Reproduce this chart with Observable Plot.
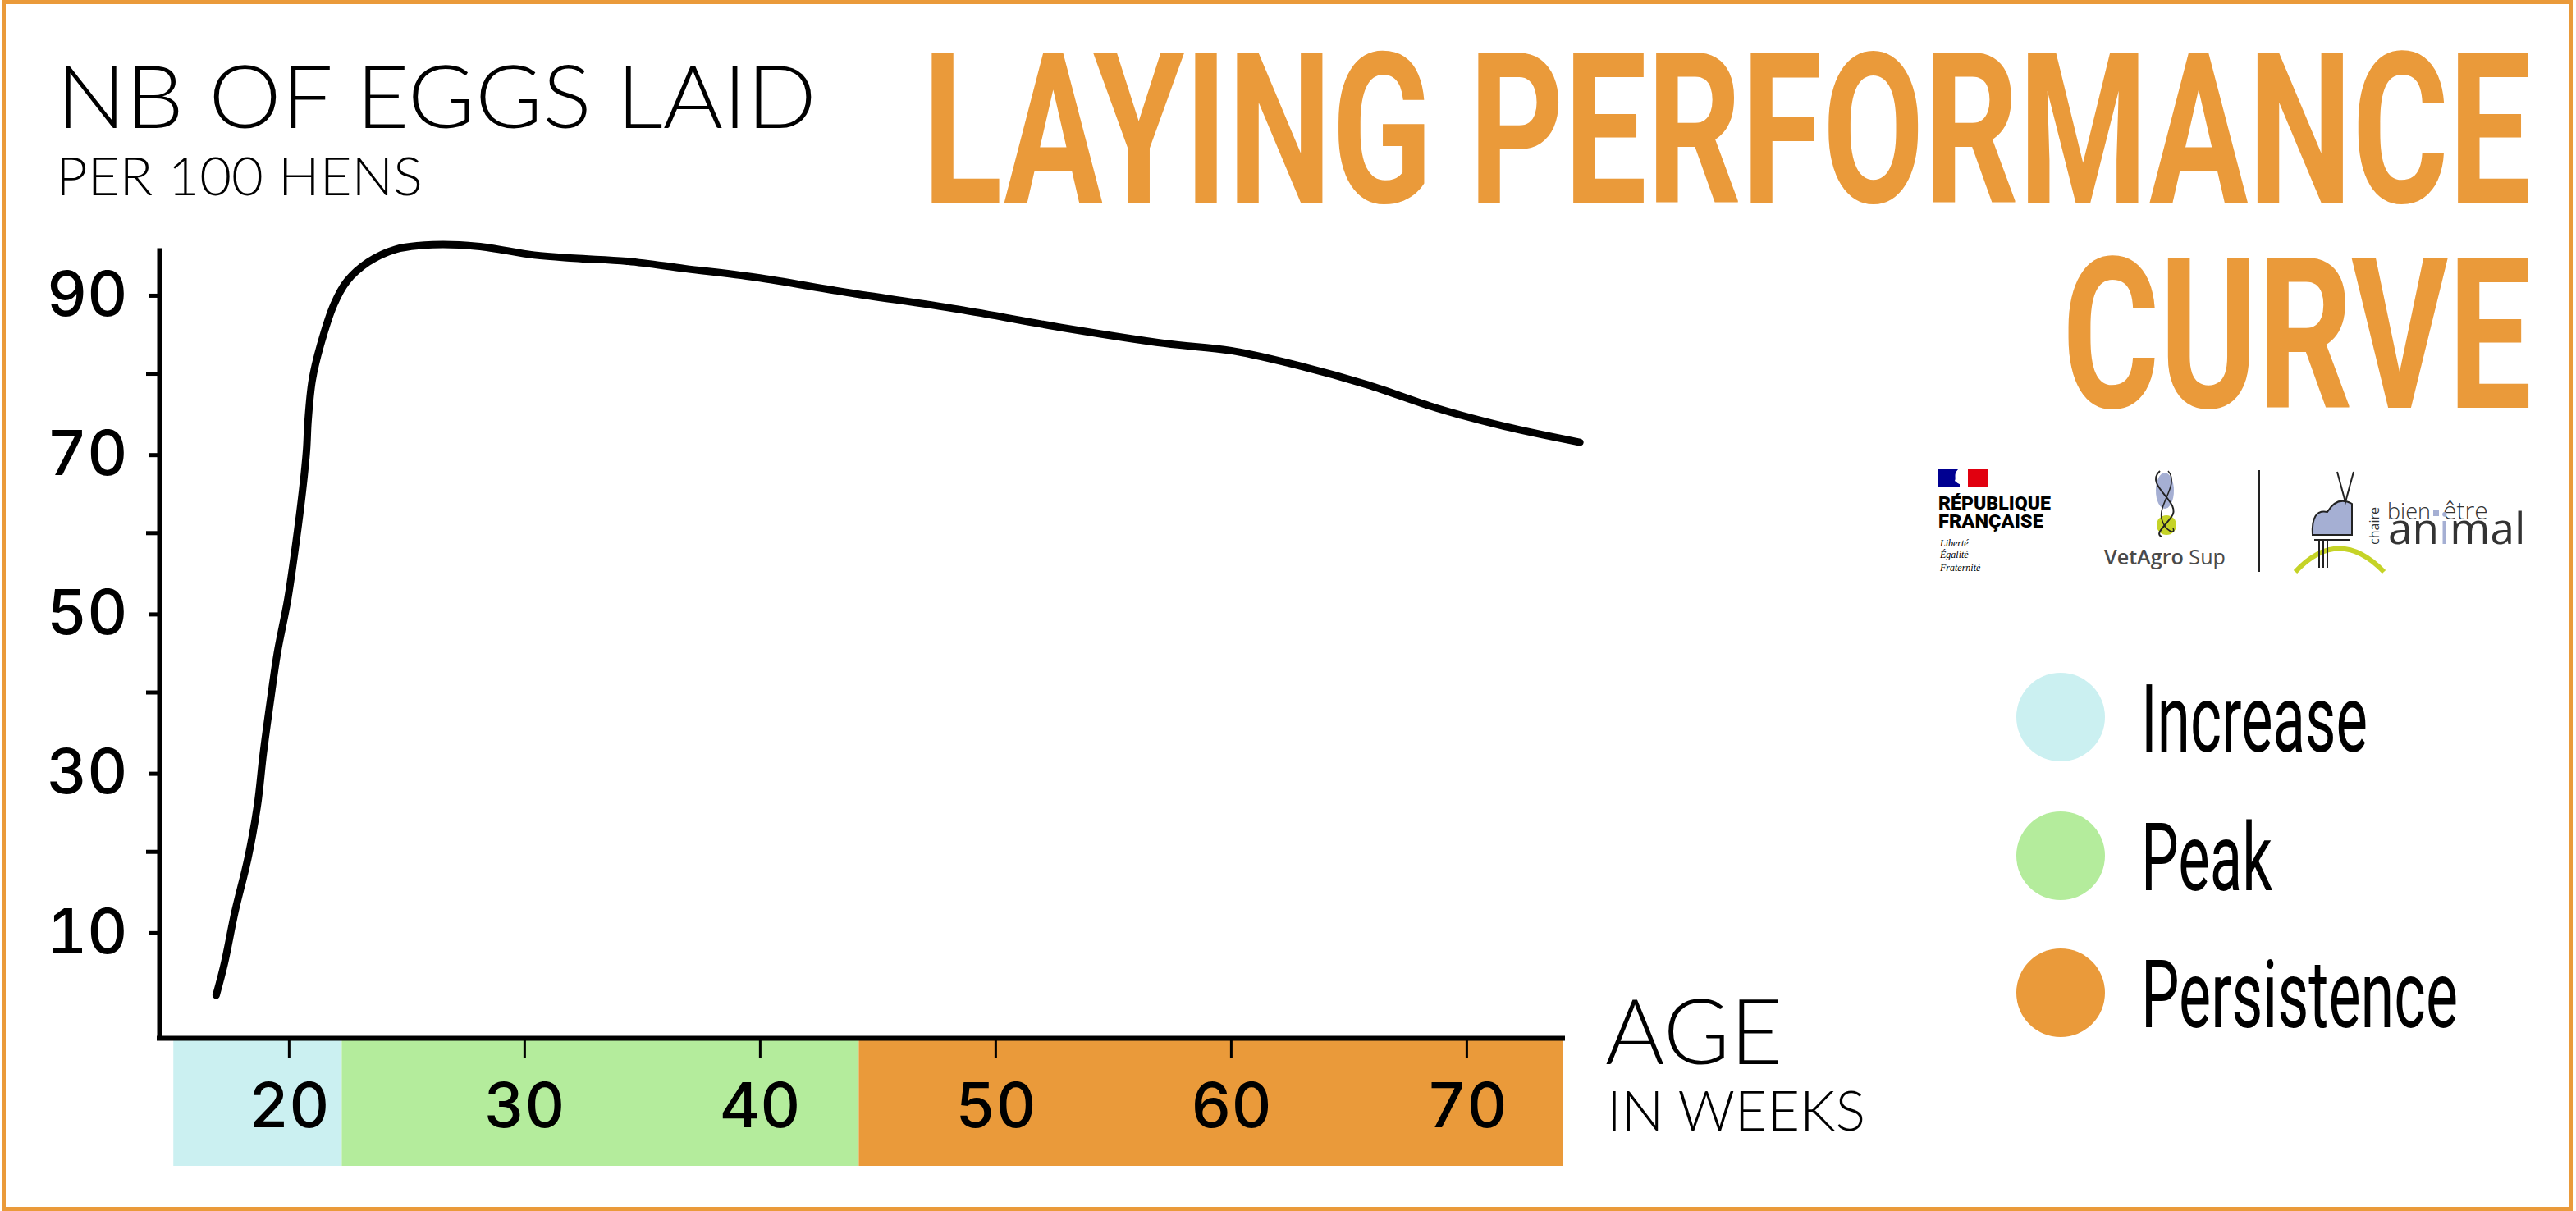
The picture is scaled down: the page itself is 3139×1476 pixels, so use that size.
<!DOCTYPE html>
<html>
<head>
<meta charset="utf-8">
<script src="https://cdn.jsdelivr.net/npm/d3@7"></script>
<script src="https://cdn.jsdelivr.net/npm/@observablehq/plot@0.6"></script>
<style>
html, body { margin: 0; padding: 0; background: #fff; }
#page { position: relative; width: 3139px; height: 1476px; overflow: hidden; background: #fff; }
#frame { position: absolute; left: 2px; top: 0; width: 3133px; height: 1476px; box-sizing: border-box; border: 5px solid #EA9A3A; pointer-events: none; }
.layer { position: absolute; left: 0; top: 0; }
</style>
</head>
<body>
<div id="page">
  <div id="strip" class="layer" style="top:1268px"></div>
  <div id="chart" class="layer"></div>
  <svg id="overlay" class="layer" width="3139" height="1476" xmlns="http://www.w3.org/2000/svg">
    <g font-family="Lato" font-weight="300" fill="#000">
      <text data-x="69" data-y="156" data-w="926" font-size="106">NB OF EGGS LAID</text>
      <text data-x="68" data-y="238" data-w="447" font-size="66">PER 100 HENS</text>
      <text data-x="1956" data-y="1297" data-w="216" font-size="110">AGE</text>
      <text data-x="1958" data-y="1378" data-w="315" font-size="67">IN WEEKS</text>
    </g>
    <g font-family="Roboto" font-weight="700" fill="#EA9A3A">
      <text data-x="1124" data-y="247" data-w="1961" font-size="256">LAYING PERFORMANCE</text>
      <text data-x="2513" data-y="497" data-w="572" font-size="256">CURVE</text>
    </g>
    <g id="logos">
      <!-- République Française -->
      <rect x="2362" y="572" width="26" height="22" fill="#000091"/>
      <rect x="2396" y="572" width="26" height="22" fill="#E1000F"/>
      <path d="M2386 572 C2380 578 2384 582 2382 586 C2386 590 2392 592 2396 594 L2398 594 L2398 572 Z" fill="#fff"/>
      <text data-x="2362" data-y="621" data-w="137" font-family="Roboto" font-weight="900" font-size="22">RÉPUBLIQUE</text>
      <text data-x="2362" data-y="643" data-w="128" font-family="Roboto" font-weight="900" font-size="22">FRANÇAISE</text>
      <g font-family="Liberation Serif" font-style="italic" font-size="12" fill="#000">
        <text x="2364" y="666">Liberté</text>
        <text x="2364" y="680">Égalité</text>
        <text x="2364" y="696">Fraternité</text>
      </g>
      <!-- VetAgro Sup -->
      <ellipse cx="2638" cy="598" rx="11" ry="22" fill="#A5AFD3"/>
      <circle cx="2640" cy="640" r="12" fill="#C5D327"/>
      <path d="M2632 574 C2612 592 2660 612 2646 630 C2636 644 2626 650 2634 654" fill="none" stroke="#222" stroke-width="2"/>
      <path d="M2642 574 C2656 590 2630 614 2634 632 C2638 648 2652 652 2648 644" fill="none" stroke="#222" stroke-width="1.5"/>
      <text data-x="2564" data-y="688" data-w="148" font-family="Open Sans" font-size="25" fill="#4a4a4a"><tspan font-weight="600">VetAgro</tspan> Sup</text>
      <line x1="2753" y1="573" x2="2753" y2="697" stroke="#222" stroke-width="2"/>
      <!-- chaire bien-être animal -->
      <path d="M2797 697 Q2850 640 2905 697" fill="none" stroke="#C5D327" stroke-width="6"/>
      <path d="M2818 652 Q2816 620 2836 624 Q2848 604 2866 614 L2866 652 Z" fill="#A5AFD3" stroke="#222" stroke-width="2"/>
      <path d="M2848 575 L2858 612 L2868 575" fill="none" stroke="#222" stroke-width="2"/>
      <path d="M2820 658 H2864 M2826 658 V692 M2831 658 V692 M2836 658 V692" fill="none" stroke="#222" stroke-width="2"/>
      <text data-x="2899" data-y="664" data-w="46" data-rot="-90" font-family="Open Sans" font-size="16" fill="#333">chaire</text>
      <rect x="2965" y="622" width="7" height="7" fill="#A5AFD3"/>
      <text font-family="Open Sans" fill="#333">
        <tspan x="2909" y="633" font-size="27" font-weight="300">bien</tspan>
        <tspan x="2977" y="633" font-size="30" font-weight="300">être</tspan>
        <tspan x="2910" y="663" font-size="53">an<tspan fill="#A5AFD3">i</tspan>mal</tspan>
      </text>
    </g>
    <g id="legend"></g>
  </svg>
  <div id="frame"></div>
</div>
<script>
// ---- data ----
const weeks = [16.9, 17.25, 17.7, 18.25, 18.65, 18.9, 19.2, 19.5, 19.94, 20.28, 20.57, 20.74, 20.8, 20.98, 21.33, 21.9, 22.45, 23.35, 24.5, 26.1, 28.0, 30.4, 32.1, 34.4, 36.8, 39.8, 43.7, 48.4, 53.0, 57.2, 60.0, 62.9, 65.8, 68.7, 71.6, 74.8];
const eggs  = [2.0, 6.0, 12.5, 19.2, 25.8, 32.3, 38.9, 45.0, 51.7, 58.6, 65.4, 70.5, 74.0, 79.2, 83.6, 88.7, 91.6, 94.0, 95.6, 96.2, 96.0, 94.9, 94.5, 94.1, 93.2, 92.1, 90.2, 88.1, 85.7, 83.8, 82.9, 81.0, 78.6, 75.7, 73.4, 71.4];

const phaseNames  = ["Increase", "Peak", "Persistence"];
const phaseStart  = [15.1, 22.25, 44.2];
const phaseEnd    = [22.25, 44.2, 74.08];
const phaseColors = ["#CBF0F1", "#B4EC9C", "#EA9A3A"];

const xTicks = [20, 30, 40, 50, 60, 70];
const yTicksLabelled = [10, 30, 50, 70, 90];
const yTicksMinor = [20, 40, 60, 80];

const xDomain = [14.5, 74.08];
const yDomain = [-3.4, 95.4];

// ---- tables built from arrays ----
const curve = weeks.map((w, i) => ({week: w, eggs: eggs[i]}));
const phases = phaseNames.map((n, i) => ({name: n, start: phaseStart[i], end: phaseEnd[i], color: phaseColors[i]}));

const W = 3139;
const ML = 194, MR = 1235;

// phase strip under the x axis
const strip = Plot.plot({
  width: W, height: 153,
  marginLeft: ML, marginRight: MR, marginTop: 0, marginBottom: 0,
  x: {domain: xDomain, axis: null},
  y: {axis: null},
  color: {type: "identity"},
  style: {background: "transparent", overflow: "visible"},
  marks: [
    Plot.rect(phases, {x1: "start", x2: "end", fill: "color"})
  ]
});
document.getElementById("strip").appendChild(strip);

// main chart
const chart = Plot.plot({
  width: W, height: 1476,
  marginLeft: ML, marginRight: MR, marginTop: 305.5, marginBottom: 211,
  x: {domain: xDomain},
  y: {domain: yDomain},
  style: {background: "transparent", overflow: "visible", fontFamily: "Inter", fontSize: "76px", fontWeight: 500, color: "#000"},
  marks: [
    Plot.axisX({ticks: xTicks, tickSize: 24, tickPadding: 31, strokeWidth: 3, label: null, fontSize: 76, fontWeight: 500}),
    Plot.axisY({ticks: yTicksLabelled, tickSize: 13, tickPadding: 26, strokeWidth: 5, label: null, fontSize: 76, fontWeight: 500, dy: 2}),
    Plot.axisY({ticks: yTicksMinor, tickSize: 16, tickFormat: () => "", strokeWidth: 5, label: null}),
    Plot.ruleX([xDomain[0]], {strokeWidth: 6, strokeLinecap: "square"}),
    Plot.ruleY([yDomain[0]], {strokeWidth: 6, strokeLinecap: "square"}),
    Plot.line(curve, {x: "week", y: "eggs", curve: "catmull-rom", strokeWidth: 9, strokeLinecap: "round", strokeLinejoin: "round"})
  ]
});
document.getElementById("chart").appendChild(chart);

// legend
const legY = [874, 1043, 1210];
const legTextLen = [276, 160, 386];
const lg = d3.select("#legend");
phases.forEach((p, i) => {
  lg.append("circle").attr("cx", 2511).attr("cy", legY[i]).attr("r", 54).attr("fill", p.color);
  lg.append("text")
    .attr("data-x", 2609).attr("data-y", legY[i] + 42).attr("data-w", legTextLen[i])
    .attr("font-family", "Roboto").attr("font-weight", 400).attr("font-size", 115)
    .attr("fill", "#000")
    .text(p.name);
});

// fit overlay texts to their widths with a horizontal scale (no textLength)
document.querySelectorAll("#overlay text[data-w]").forEach(t => {
  const x = +t.dataset.x, y = +t.dataset.y, w = +t.dataset.w;
  const rot = t.dataset.rot ? ` rotate(${t.dataset.rot})` : "";
  t.setAttribute("x", 0);
  t.setAttribute("y", 0);
  const nat = t.getComputedTextLength() || w;
  t.setAttribute("transform", `translate(${x},${y})${rot} scale(${(w / nat).toFixed(4)},1)`);
});
</script>
</body>
</html>
